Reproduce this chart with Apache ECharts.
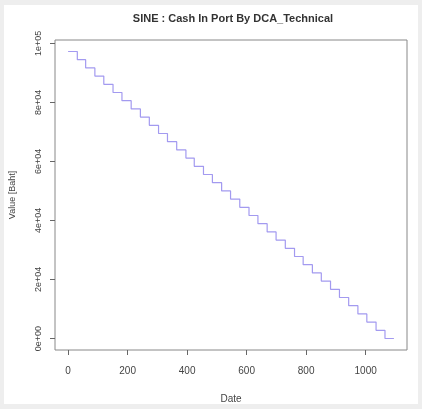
<!DOCTYPE html>
<html>
<head>
<meta charset="utf-8">
<script src="https://cdn.jsdelivr.net/npm/echarts@6/dist/echarts.min.js"></script>
<style>
  html, body { margin: 0; padding: 0; background: #eeeeee; }
  #frame { position: absolute; left: 4px; top: 5px; width: 414px; height: 399px; background: #ffffff; }
  #chart { position: absolute; left: 0; top: 0; width: 422px; height: 409px; }
</style>
</head>
<body>
<div id="frame"></div>
<div id="chart"></div>
<script>
// Day index (days since first purchase) at which each monthly DCA purchase happens
const stepDays = [0, 31, 59, 90, 120, 151, 181, 212, 243, 273, 304, 334,
                  365, 396, 424, 455, 485, 516, 546, 577, 608, 638, 669, 699,
                  730, 761, 790, 821, 851, 882, 912, 943, 974, 1004, 1035, 1065, 1095];
// Remaining cash in portfolio after each purchase (Baht)
const cashLeft = [97222, 94444, 91667, 88889, 86111, 83333, 80556, 77778, 75000, 72222, 69444, 66667,
                  63889, 61111, 58333, 55556, 52778, 50000, 47222, 44444, 41667, 38889, 36111, 33333,
                  30556, 27778, 25000, 22222, 19444, 16667, 13889, 11111, 8333, 5556, 2778, 0, 0];

const xTicks = [0, 200, 400, 600, 800, 1000];
const xTickLabels = ['0', '200', '400', '600', '800', '1000'];
const yTicks = [0, 20000, 40000, 60000, 80000, 100000];
const yTickLabels = ['0e+00', '2e+04', '4e+04', '6e+04', '8e+04', '1e+05'];

const points = stepDays.map((d, i) => [d, cashLeft[i]]);

const chart = echarts.init(document.getElementById('chart'), null, { renderer: 'canvas' });
const textColor = '#444';
const font = '"Liberation Sans", Arial, sans-serif';

chart.setOption({
  backgroundColor: 'transparent',
  animation: false,
  title: {
    text: 'SINE : Cash In Port By DCA_Technical',
    left: 228, top: 8, textAlign: 'center',
    textStyle: { fontFamily: font, fontSize: 11, fontWeight: 'bold', color: '#333' }
  },
  grid: {
    left: 55, top: 40, right: 15, bottom: 55,
    show: true, borderColor: '#888', borderWidth: 1, backgroundColor: 'transparent'
  },
  xAxis: {
    type: 'value', min: -44, max: 1139,
    name: 'Date', nameLocation: 'middle', nameGap: 44,
    nameTextStyle: { fontFamily: font, fontSize: 10, color: textColor },
    axisLine: { show: false, onZero: false },
    splitLine: { show: false },
    axisTick: { show: true, length: 5, customValues: xTicks, lineStyle: { color: '#666' } },
    axisLabel: {
      customValues: xTicks, margin: 16, fontFamily: font, fontSize: 10, color: textColor,
      formatter: v => xTickLabels[xTicks.indexOf(v)]
    }
  },
  yAxis: {
    type: 'value', min: -3889, max: 101111,
    name: 'Value [Baht]', nameLocation: 'middle', nameGap: 38, nameRotate: 90,
    nameTextStyle: { fontFamily: font, fontSize: 9, color: textColor },
    axisLine: { show: false, onZero: false },
    splitLine: { show: false },
    axisTick: { show: true, length: 5, customValues: yTicks, lineStyle: { color: '#666' } },
    axisLabel: {
      customValues: yTicks, rotate: 90, margin: 12,
      fontFamily: font, fontSize: 9, color: textColor,
      formatter: v => yTickLabels[yTicks.indexOf(v)]
    }
  },
  series: [{
    type: 'line',
    data: points,
    step: 'end',
    showSymbol: false,
    lineStyle: { color: '#a39af0', width: 1.2 }
  }]
});
</script>
</body>
</html>
